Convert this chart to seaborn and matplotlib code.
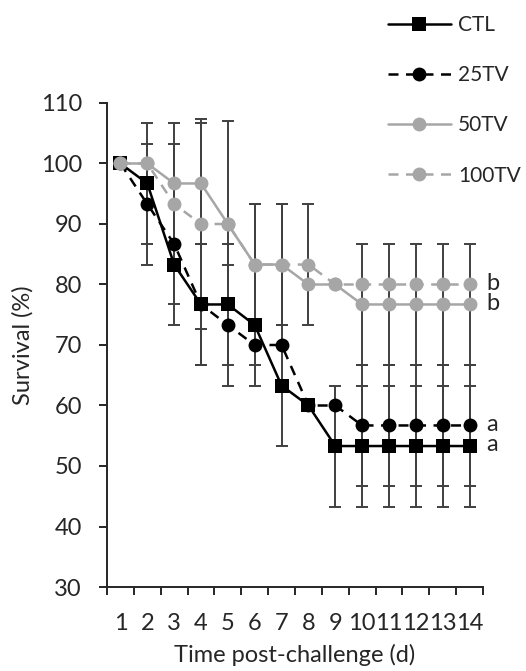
import numpy as np
import matplotlib
matplotlib.use("Agg")
import matplotlib.pyplot as plt
import seaborn as sns

# Données
days = list(range(1, 15))
ctl = [100, 96.7, 83.3, 76.7, 76.7, 73.3, 63.3, 60, 53.3, 53.3, 53.3, 53.3, 53.3, 53.3]
tv25 = [100, 93.3, 86.7, 76.7, 73.3, 70, 70, 60, 60, 56.7, 56.7, 56.7, 56.7, 56.7]
tv50 = [100, 100, 96.7, 96.7, 90, 83.3, 83.3, 80, 80, 76.7, 76.7, 76.7, 76.7, 76.7]
tv100 = [100, 100, 93.3, 90, 90, 83.3, 83.3, 83.3, 80, 80, 80, 80, 80, 80]

ctl_err = [0, 10, 10, 10, 10, 10, 10, 0, 10, 10, 10, 10, 10, 10]
tv25_err = [0, 10, 10, 10, 10, 3.3, 0, 0, 0, 10, 10, 10, 10, 10]
tv50_err = [0, 0, 10, 10, 17, 10, 10, 0, 0, 10, 10, 10, 10, 10]
tv100_err = [0, 0, 10, 17.3, 0, 10, 10, 10, 0, 0, 0, 0, 0, 0]

groups = ["CTL", "25TV", "50TV", "100TV"]
letters = ["a", "a", "b", "b"]
letter_y = [53.3, 56.7, 76.7, 80]

sns.set_style("ticks")
plt.rcParams["font.family"] = ["Lato", "DejaVu Sans"]
plt.rcParams["font.size"] = 17

fig = plt.figure(figsize=(5.26, 6.71), dpi=100)
ax = fig.add_axes([107 / 526, 1 - 587 / 671, 376 / 526, 484 / 671])

grey = "#A6A6A6"
styles = [
    dict(color="black", marker="s", markersize=10.5, linestyle="-"),
    dict(color="black", marker="o", markersize=10, linestyle=(0, (4, 3))),
    dict(color=grey, marker="o", markersize=10, linestyle="-"),
    dict(color=grey, marker="o", markersize=10, linestyle=(0, (4, 3))),
]
series = [ctl, tv25, tv50, tv100]
errors = [ctl_err, tv25_err, tv50_err, tv100_err]

# barres d'erreur en dessous
for vals, err in zip(series, errors):
    x = np.array(days)
    y = np.array(vals)
    e = np.array(err)
    m = e > 0
    ax.errorbar(x[m], y[m], yerr=e[m], fmt="none", ecolor="#404040",
                elinewidth=1.4, capsize=4.5, capthick=1.4, zorder=1)

for name, vals, st in zip(groups, series, styles):
    sns.lineplot(x=days, y=vals, ax=ax, label=name, linewidth=1.8,
                 markeredgewidth=0, markeredgecolor=st["color"],
                 zorder=3, **st)

for lt, ly in zip(letters, letter_y):
    ax.annotate(lt, xy=(14, ly), xytext=(12, 1), textcoords="offset points",
                ha="left", va="center", fontsize=17)

ax.set_xlim(0.5, 14.5)
ax.set_ylim(30, 110)
ax.set_yticks(range(30, 111, 10))
ax.set_xticks(days)
ax.set_xticks(np.arange(0.5, 15, 1), minor=True)
ax.tick_params(axis="x", which="major", length=0, pad=19)
ax.tick_params(axis="x", which="minor", length=6, width=1.4, direction="out")
ax.tick_params(axis="y", length=6, width=1.4, direction="out", pad=12)
ax.set_xlabel("Time post-challenge (d)", labelpad=7)
ax.set_ylabel("Survival (%)", labelpad=5)
sns.despine(ax=ax)
for s in ["left", "bottom"]:
    ax.spines[s].set_linewidth(1.4)

ax.get_legend().remove()
handles, labels = ax.get_legend_handles_labels()
fig.legend(handles, labels, loc="upper left", bbox_to_anchor=(388 / 526, 1 - 15 / 671),
           frameon=False, borderpad=0, borderaxespad=0, handlelength=3.0,
           handletextpad=0.35, labelspacing=1.45, numpoints=1, fontsize=15)

fig.savefig("out.png", dpi=100)
